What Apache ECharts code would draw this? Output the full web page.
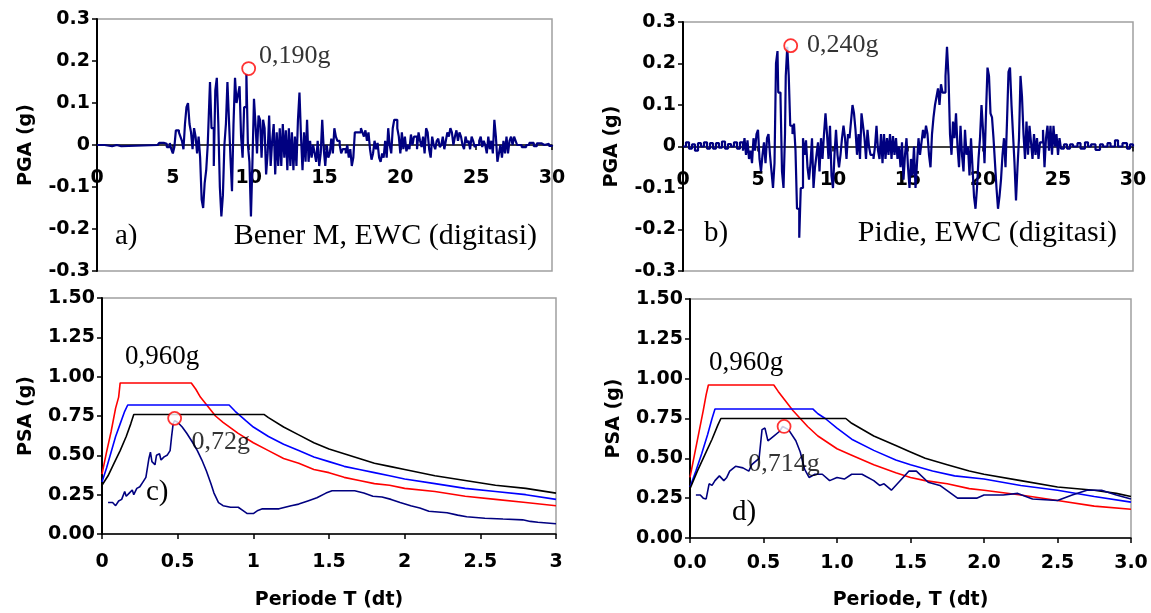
<!DOCTYPE html>
<html>
<head>
<meta charset="utf-8">
<script src="https://cdn.jsdelivr.net/npm/echarts@6/dist/echarts.min.js"></script>
<style>html,body{margin:0;padding:0;background:#fff}#c{width:1151px;height:613px}</style>
</head>
<body>
<div id="c"></div>
<script>
// ---- Data ----
const recordA = [[0,0],[0.5,-0.003],[1,0],[1.3,-0.003],[1.6,0],[4,0],[4.1,0.005],[4.4,0.003],[4.6,-0.005],[4.8,0.005],[4.9,-0.01],[5.0,-0.02],[5.1,-0.005],[5.2,0.035],[5.4,0.03],[5.5,0.02],[5.6,0.01],[5.7,-0.01],[5.8,0.05],[5.9,0.09],[6.0,0.10],[6.1,0.05],[6.2,0.03],[6.3,-0.01],[6.4,0.04],[6.5,0.02],[6.6,-0.02],[6.7,0.02],[6.8,-0.03],[6.9,-0.13],[7.0,-0.15],[7.1,-0.09],[7.2,-0.06],[7.3,0.0],[7.4,0.1],[7.45,0.15],[7.55,0.04],[7.7,-0.05],[7.8,0.13],[7.9,0.16],[8.0,0.05],[8.1,-0.1],[8.2,-0.17],[8.3,-0.12],[8.4,0.0],[8.5,0.05],[8.6,0.15],[8.7,0.06],[8.8,-0.03],[8.9,-0.11],[9.0,0.05],[9.1,0.16],[9.2,0.1],[9.3,0.12],[9.4,0.14],[9.5,0.02],[9.6,-0.03],[9.7,0.09],[9.85,0.17],[9.95,0.0],[10.05,-0.04],[10.15,-0.17],[10.25,-0.04],[10.35,0.11],[10.45,0.05],[10.55,-0.02],[10.65,0.07],[10.75,0.06],[10.85,-0.03],[10.95,0.06],[11.05,0.04],[11.15,-0.07],[11.25,-0.02],[11.35,0.07],[11.45,-0.05],[11.55,0.01],[11.65,0.05],[11.75,-0.07],[11.85,0.03],[11.95,-0.05],[12.05,0.04],[12.15,-0.05],[12.25,0.05],[12.35,-0.03],[12.45,0.035],[12.55,-0.06],[12.65,0.04],[12.75,-0.05],[12.85,0.03],[12.95,-0.06],[13.05,0.02],[13.15,-0.05],[13.25,0.06],[13.35,0.125],[13.45,0.02],[13.55,-0.06],[13.65,0.03],[13.75,-0.04],[13.85,0.06],[13.95,-0.04],[14.05,0.01],[14.15,-0.03],[14.25,0.0],[14.35,-0.02],[14.45,-0.04],[14.55,0.01],[14.65,-0.05],[14.75,-0.02],[14.85,0.06],[14.95,-0.01],[15.05,-0.05],[15.15,0.0],[15.25,-0.03],[15.35,-0.02],[15.45,0.015],[15.55,-0.02],[15.65,0.04],[15.75,0.02],[15.85,0.01],[16.0,0.0],[16.1,-0.02],[16.2,-0.01],[16.4,-0.02],[16.5,0.0],[16.6,-0.03],[16.7,-0.01],[16.8,-0.05],[16.9,-0.03],[17.0,0.03],[17.2,0.03],[17.4,0.04],[17.5,0.03],[17.6,0.02],[17.7,0.035],[17.8,0.01],[17.9,0.03],[18.0,-0.01],[18.1,-0.035],[18.2,-0.02],[18.3,0.01],[18.4,-0.01],[18.5,0.005],[18.6,-0.03],[18.7,-0.04],[18.8,-0.02],[18.9,-0.03],[19.0,0.01],[19.1,-0.03],[19.2,0.04],[19.3,0.0],[19.4,-0.02],[19.5,0.04],[19.6,0.06],[19.7,0.06],[19.8,0.04],[19.9,0.02],[20.0,-0.02],[20.1,0.03],[20.2,-0.01],[20.3,0.02],[20.4,-0.015],[20.5,0.0],[20.6,-0.01],[20.7,0.025],[20.8,0.0],[20.9,0.02],[21.0,0.02],[21.1,-0.01],[21.2,0.03],[21.3,0.01],[21.4,-0.005],[21.5,0.02],[21.6,-0.02],[21.7,0.04],[21.8,0.03],[21.9,-0.01],[22.0,-0.03],[22.1,0.02],[22.2,0.0],[22.3,-0.01],[22.4,0.01],[22.5,0.015],[22.6,-0.005],[22.7,0.0],[22.8,0.02],[22.9,-0.01],[23.0,0.01],[23.1,0.03],[23.2,0.02],[23.3,0.04],[23.4,0.03],[23.5,0.0],[23.6,0.02],[23.7,0.035],[23.8,0.01],[23.9,0.03],[24.0,0.02],[24.1,0.0],[24.2,-0.01],[24.3,0.02],[24.4,0.005],[24.5,0.01],[24.6,-0.01],[24.7,0.02],[24.8,0.01],[24.9,-0.005],[25.0,0.0],[25.2,0.01],[25.3,0.02],[25.4,-0.005],[25.5,0.01],[25.6,0.0],[25.7,-0.02],[25.8,0.02],[25.9,-0.01],[26.0,0.01],[26.1,-0.02],[26.2,0.06],[26.3,0.02],[26.4,-0.04],[26.5,-0.02],[26.6,0.0],[26.7,-0.03],[26.8,0.01],[26.9,-0.02],[27.0,0.02],[27.1,-0.02],[27.2,0.01],[27.3,0.02],[27.4,0.0],[27.5,0.02],[27.6,0.01],[27.7,0.0],[28.0,-0.005],[28.3,0.0],[28.5,0.005],[28.8,-0.003],[29.0,0.004],[29.3,0.0],[29.5,0.003],[29.8,-0.002],[30.0,0.0]];
const recordB = [[0,0],[0.2,0.01],[0.4,-0.005],[0.6,0.005],[0.8,-0.01],[1.0,0.008],[1.2,0.0],[1.4,0.01],[1.6,-0.005],[1.8,0.008],[2.0,-0.005],[2.2,0.008],[2.4,-0.003],[2.6,0.012],[2.8,-0.005],[3.0,0.006],[3.2,0.0],[3.4,0.01],[3.6,-0.005],[3.8,0.01],[4.0,-0.01],[4.1,0.02],[4.2,-0.02],[4.3,0.015],[4.4,-0.03],[4.5,-0.01],[4.6,-0.04],[4.7,0.02],[4.8,-0.01],[4.9,0.03],[5.0,0.04],[5.1,-0.03],[5.2,-0.06],[5.3,-0.02],[5.4,0.01],[5.5,-0.04],[5.6,0.02],[5.7,0.03],[5.8,-0.02],[5.9,-0.06],[6.0,-0.1],[6.1,-0.04],[6.2,0.2],[6.3,0.23],[6.35,0.13],[6.5,0.12],[6.6,-0.06],[6.7,-0.1],[6.8,0.03],[6.85,0.17],[6.95,0.24],[7.05,0.17],[7.15,0.05],[7.3,0.03],[7.4,0.055],[7.5,-0.01],[7.6,-0.15],[7.75,-0.22],[7.85,-0.1],[8.0,0.02],[8.1,-0.02],[8.2,0.015],[8.3,-0.05],[8.4,-0.08],[8.5,-0.04],[8.6,0.02],[8.7,-0.1],[8.8,-0.05],[8.9,-0.02],[9.0,0.01],[9.1,-0.06],[9.2,0.02],[9.3,-0.03],[9.4,0.03],[9.5,0.08],[9.6,0.03],[9.7,-0.03],[9.8,0.05],[9.9,-0.07],[10.0,-0.1],[10.1,-0.02],[10.2,0.04],[10.3,-0.02],[10.4,-0.05],[10.5,-0.02],[10.6,0.02],[10.7,0.05],[10.8,0.02],[10.9,-0.03],[11.0,0.03],[11.1,0.02],[11.2,0.06],[11.3,0.1],[11.4,0.08],[11.5,0.04],[11.6,-0.02],[11.7,0.03],[11.8,-0.03],[11.9,0.08],[12.0,0.05],[12.1,0.02],[12.2,-0.03],[12.3,0.04],[12.4,0.0],[12.5,-0.02],[12.6,-0.02],[12.7,-0.03],[12.8,0.0],[12.9,0.05],[13.0,-0.01],[13.1,-0.03],[13.2,0.03],[13.3,-0.04],[13.4,0.03],[13.5,-0.03],[13.6,0.02],[13.7,-0.02],[13.8,0.03],[13.9,-0.03],[14.0,0.025],[14.1,-0.02],[14.2,0.02],[14.3,-0.03],[14.4,0.0],[14.5,-0.05],[14.6,0.01],[14.7,-0.08],[14.8,-0.02],[14.9,0.02],[15.0,-0.05],[15.1,-0.1],[15.2,-0.03],[15.3,-0.07],[15.4,0.0],[15.5,-0.1],[15.6,-0.04],[15.7,0.02],[15.8,-0.02],[15.9,0.01],[16.0,0.04],[16.1,0.02],[16.2,0.05],[16.3,0.03],[16.4,-0.02],[16.5,-0.05],[16.6,0.03],[16.7,0.07],[16.8,0.1],[16.9,0.12],[17.0,0.14],[17.1,0.1],[17.2,0.15],[17.3,0.13],[17.5,0.17],[17.6,0.24],[17.7,0.17],[17.8,0.03],[17.9,-0.02],[18.0,0.06],[18.1,0.02],[18.2,0.08],[18.3,0.0],[18.4,-0.05],[18.5,0.05],[18.6,-0.02],[18.7,-0.06],[18.8,0.04],[18.9,-0.02],[19.0,0.0],[19.1,-0.07],[19.2,0.02],[19.3,-0.05],[19.4,-0.12],[19.5,-0.15],[19.6,-0.1],[19.7,-0.03],[19.8,0.02],[19.9,0.1],[20.0,0.04],[20.1,-0.04],[20.2,0.08],[20.3,0.19],[20.4,0.17],[20.5,0.08],[20.6,0.07],[20.7,0.02],[20.8,-0.04],[20.9,-0.1],[21.0,-0.15],[21.1,-0.12],[21.2,-0.08],[21.3,-0.02],[21.4,0.02],[21.5,-0.05],[21.6,0.06],[21.7,0.18],[21.8,0.19],[21.9,0.1],[22.0,0.03],[22.1,-0.04],[22.2,-0.13],[22.3,-0.05],[22.4,0.02],[22.5,0.17],[22.6,0.12],[22.7,0.03],[22.8,-0.03],[22.9,0.06],[23.0,-0.02],[23.1,0.05],[23.2,0.01],[23.3,-0.03],[23.4,0.03],[23.5,-0.02],[23.6,0.02],[23.7,-0.03],[23.8,0.01],[24.0,0.04],[24.1,-0.05],[24.2,0.02],[24.3,0.05],[24.4,-0.01],[24.5,0.05],[24.6,-0.02],[24.7,0.05],[24.8,0.0],[24.9,0.03],[25.0,-0.02],[25.1,0.02],[25.2,-0.005],[25.4,0.005],[25.6,-0.005],[25.8,0.005],[26.0,0.0],[26.3,0.008],[26.5,-0.005],[26.8,0.01],[27.0,0.0],[27.2,0.005],[27.5,-0.008],[27.8,0.005],[28.0,0.0],[28.3,0.008],[28.5,0.0],[28.8,0.015],[29.0,0.0],[29.3,0.008],[29.6,-0.005],[29.8,0.005],[30.0,0.0]];
const peakA = [10.0, 0.182];
const peakB = [7.18, 0.243];
const peakLabelA = '0,190g';
const peakLabelB = '0,240g';

const redC = [[0,0.38],[0.03,0.52],[0.06,0.65],[0.09,0.80],[0.11,0.87],[0.12,0.96],[0.59,0.96],[0.62,0.92],[0.65,0.87],[0.7,0.81],[0.75,0.75],[0.8,0.71],[0.9,0.64],[1.0,0.58],[1.1,0.53],[1.2,0.48],[1.3,0.45],[1.4,0.41],[1.5,0.39],[1.6,0.36],[1.7,0.34],[1.8,0.32],[1.9,0.31],[2.0,0.29],[2.2,0.27],[2.4,0.24],[2.6,0.22],[2.8,0.20],[3.0,0.18]];
const blueC = [[0,0.33],[0.03,0.42],[0.06,0.52],[0.09,0.62],[0.12,0.70],[0.15,0.78],[0.17,0.82],[0.84,0.82],[0.88,0.78],[0.95,0.72],[1.0,0.68],[1.1,0.62],[1.2,0.57],[1.3,0.53],[1.4,0.49],[1.5,0.46],[1.6,0.43],[1.7,0.41],[1.8,0.39],[1.9,0.37],[2.0,0.35],[2.2,0.32],[2.4,0.29],[2.6,0.27],[2.8,0.25],[3.0,0.22]];
const blackC = [[0,0.31],[0.04,0.37],[0.08,0.45],[0.12,0.53],[0.16,0.62],[0.19,0.70],[0.21,0.76],[1.07,0.76],[1.1,0.74],[1.2,0.68],[1.3,0.63],[1.4,0.58],[1.5,0.54],[1.6,0.51],[1.7,0.48],[1.8,0.45],[1.9,0.43],[2.0,0.41],[2.2,0.37],[2.4,0.34],[2.6,0.31],[2.8,0.29],[3.0,0.26]];
const respC = [[0.04,0.20],[0.07,0.20],[0.09,0.18],[0.11,0.21],[0.13,0.22],[0.15,0.27],[0.16,0.24],[0.18,0.26],[0.2,0.28],[0.21,0.25],[0.23,0.29],[0.25,0.30],[0.27,0.33],[0.29,0.36],[0.31,0.48],[0.32,0.52],[0.33,0.46],[0.35,0.44],[0.36,0.50],[0.38,0.51],[0.39,0.47],[0.41,0.49],[0.43,0.50],[0.45,0.53],[0.46,0.62],[0.47,0.70],[0.48,0.72],[0.5,0.71],[0.53,0.68],[0.56,0.64],[0.6,0.58],[0.63,0.53],[0.66,0.47],[0.69,0.40],[0.72,0.32],[0.74,0.26],[0.77,0.20],[0.8,0.18],[0.85,0.17],[0.9,0.17],[0.93,0.15],[0.96,0.13],[1.0,0.13],[1.03,0.15],[1.06,0.16],[1.17,0.16],[1.25,0.18],[1.3,0.19],[1.36,0.21],[1.42,0.23],[1.48,0.26],[1.52,0.275],[1.67,0.275],[1.73,0.26],[1.79,0.24],[1.85,0.235],[1.91,0.22],[1.97,0.20],[2.04,0.18],[2.1,0.165],[2.16,0.145],[2.28,0.135],[2.35,0.12],[2.41,0.11],[2.53,0.10],[2.65,0.095],[2.78,0.09],[2.83,0.08],[2.88,0.075],[3.0,0.065]];
const peakC = [0.48, 0.735];
const peakLabelC = '0,72g';

const redD = [[0,0.38],[0.03,0.52],[0.06,0.66],[0.09,0.80],[0.11,0.90],[0.125,0.96],[0.57,0.96],[0.6,0.92],[0.65,0.86],[0.7,0.80],[0.75,0.75],[0.8,0.70],[0.87,0.64],[1.0,0.56],[1.1,0.52],[1.25,0.46],[1.4,0.41],[1.5,0.38],[1.6,0.36],[1.75,0.34],[1.9,0.31],[2.0,0.30],[2.25,0.27],[2.5,0.235],[2.75,0.20],[3.0,0.18]];
const blueD = [[0,0.32],[0.04,0.42],[0.08,0.53],[0.12,0.65],[0.15,0.75],[0.17,0.81],[0.835,0.81],[0.87,0.78],[0.92,0.75],[1.0,0.69],[1.1,0.62],[1.25,0.55],[1.4,0.49],[1.5,0.46],[1.65,0.42],[1.8,0.39],[2.0,0.37],[2.25,0.33],[2.5,0.30],[2.75,0.26],[3.0,0.225]];
const blackD = [[0,0.31],[0.05,0.42],[0.1,0.52],[0.15,0.62],[0.19,0.71],[0.21,0.75],[1.06,0.75],[1.1,0.72],[1.25,0.64],[1.4,0.58],[1.5,0.54],[1.6,0.50],[1.75,0.46],[1.9,0.42],[2.0,0.40],[2.25,0.36],[2.5,0.32],[2.75,0.30],[2.9,0.28],[3.0,0.26]];
const respD = [[0.04,0.27],[0.07,0.27],[0.09,0.25],[0.11,0.245],[0.13,0.34],[0.15,0.33],[0.17,0.36],[0.2,0.39],[0.23,0.36],[0.25,0.38],[0.27,0.42],[0.31,0.45],[0.36,0.44],[0.40,0.42],[0.42,0.46],[0.47,0.50],[0.49,0.68],[0.51,0.69],[0.53,0.61],[0.57,0.64],[0.61,0.67],[0.63,0.70],[0.67,0.68],[0.72,0.61],[0.75,0.54],[0.78,0.43],[0.81,0.38],[0.85,0.40],[0.90,0.40],[0.95,0.36],[1.0,0.38],[1.05,0.37],[1.10,0.40],[1.17,0.40],[1.25,0.36],[1.29,0.33],[1.32,0.34],[1.37,0.30],[1.42,0.35],[1.49,0.42],[1.54,0.42],[1.62,0.35],[1.70,0.33],[1.82,0.25],[1.95,0.25],[2.0,0.27],[2.13,0.27],[2.23,0.28],[2.33,0.245],[2.5,0.235],[2.6,0.27],[2.7,0.30],[2.8,0.30],[2.9,0.27],[3.0,0.245]];
const peakD = [0.64, 0.70];
const peakLabelD = '0,714g';
const designLabel = '0,960g';

// ---- Styling ----
const SANS = '"DejaVu Sans", "Liberation Sans", Arial, sans-serif';
const SERIF = '"Liberation Serif", "Times New Roman", serif';
const chart = echarts.init(document.getElementById('c'));

function yAx(gi, min, max, interval, name, fmt, gap) {
  return {
    type: 'value', gridIndex: gi, min: min, max: max, interval: interval,
    name: name, nameLocation: 'middle', nameGap: gap, nameRotate: 90,
    nameTextStyle: {fontFamily: SANS, fontWeight: 'bold', fontSize: 19, color: '#000'},
    axisLine: {show: true, onZero: false, lineStyle: {color: '#000', width: 2}},
    axisTick: {show: true, length: 5, lineStyle: {color: '#000', width: 1.5}},
    axisLabel: {fontFamily: SANS, fontWeight: 'bold', fontSize: 19, color: '#000', margin: 7, formatter: fmt},
    splitLine: {show: false}
  };
}
function xAx(gi, min, max, interval, name, fmt, margin, gap, offset) {
  return {
    type: 'value', gridIndex: gi, min: min, max: max, interval: interval, position: 'bottom', offset: offset || 0,
    name: name, nameLocation: 'middle', nameGap: gap,
    nameTextStyle: {fontFamily: SANS, fontWeight: 'bold', fontSize: 19, color: '#000'},
    axisLine: {show: true, onZero: false, lineStyle: {color: '#000', width: 1.5}},
    axisTick: {show: true, length: 5, lineStyle: {color: '#000', width: 1.5}},
    axisLabel: {fontFamily: SANS, fontWeight: 'bold', fontSize: 19, color: '#000', margin: margin, formatter: fmt},
    splitLine: {show: false}
  };
}
function line(xi, data, color, width, step) {
  return {type: 'line', xAxisIndex: xi, yAxisIndex: xi, data: data, step: step || false,
    showSymbol: false, symbol: 'none', silent: true,
    lineStyle: {color: color, width: width}, z: 2};
}
function peak(xi, pt, text, pos, offset) {
  return {type: 'scatter', xAxisIndex: xi, yAxisIndex: xi, data: [pt], symbol: 'circle', symbolSize: 13, z: 5,
    itemStyle: {color: '#fff', borderColor: '#ff0000', borderWidth: 1.8},
    label: {show: true, formatter: text, position: pos, offset: offset, fontFamily: SERIF, fontSize: 26, color: '#000'}};
}
const f2 = v => v.toFixed(2);
const f1 = v => v.toFixed(1);
const gridBorder = {show: true, borderColor: '#a0a0a0', borderWidth: 1.5, backgroundColor: 'transparent'};
const txt = (x, y, t, size, align) => ({type: 'text', x: x, y: y, z: 10,
  style: {text: t, font: size + 'px ' + SERIF, fill: '#000', textAlign: align || 'left', textVerticalAlign: 'middle'}});

const hA = 252, hB = 249;
chart.setOption({
  animation: false,
  backgroundColor: '#fff',
  grid: [
    Object.assign({left: 97, top: 19, width: 455, height: hA}, gridBorder),
    Object.assign({left: 683, top: 22, width: 450, height: hB}, gridBorder),
    Object.assign({left: 102, top: 298, width: 454, height: 236}, gridBorder),
    Object.assign({left: 690, top: 299, width: 441, height: 239}, gridBorder)
  ],
  xAxis: [
    xAx(0, 0, 30, 5, '', null, 24, 0, -hA / 2),
    xAx(1, 0, 30, 5, '', null, 24, 0, -hB / 2),
    xAx(2, 0, 3, 0.5, 'Periode T (dt)', null, 19, 57),
    xAx(3, 0, 3, 0.5, 'Periode, T (dt)', f1, 16, 53)
  ],
  yAxis: [
    yAx(0, -0.3, 0.3, 0.1, 'PGA (g)', null, 61),
    yAx(1, -0.3, 0.3, 0.1, 'PGA (g)', null, 61),
    yAx(2, 0, 1.5, 0.25, 'PSA (g)', f2, 66),
    yAx(3, 0, 1.5, 0.25, 'PSA (g)', f2, 66)
  ],
  series: [
    line(0, recordA, '#000080', 2.2, 'end'),
    peak(0, peakA, peakLabelA, 'right', [-2, -12]),
    line(1, recordB, '#000080', 2.2, 'end'),
    peak(1, peakB, peakLabelB, 'right', [4, 0]),
    line(2, redC, '#ff0000', 1.6),
    line(2, blueC, '#0000ff', 1.6),
    line(2, blackC, '#000000', 1.6),
    line(2, respC, '#000080', 1.6),
    peak(2, peakC, peakLabelC, 'inside', [46, 24]),
    line(3, redD, '#ff0000', 1.6),
    line(3, blueD, '#0000ff', 1.6),
    line(3, blackD, '#000000', 1.6),
    line(3, respD, '#000080', 1.6),
    peak(3, peakD, peakLabelD, 'inside', [0, 38])
  ],
  graphic: [
    txt(115, 236, 'a)', 29),
    txt(537, 236, 'Bener M, EWC (digitasi)', 30, 'right'),
    txt(704, 233, 'b)', 29),
    txt(1117, 233, 'Pidie, EWC (digitasi)', 30, 'right'),
    txt(125, 357, designLabel, 27),
    txt(146, 492, 'c)', 29),
    txt(709, 363, designLabel, 27),
    txt(732, 512, 'd)', 29)
  ]
});
</script>
</body>
</html>
